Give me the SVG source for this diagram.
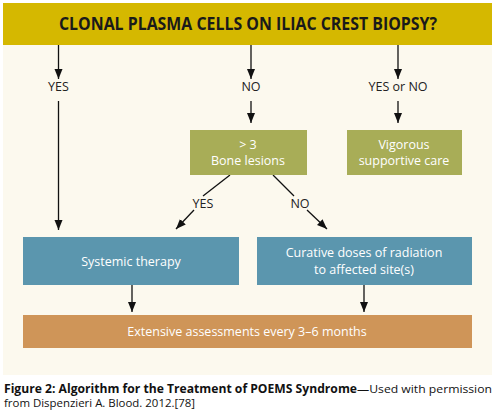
<svg xmlns="http://www.w3.org/2000/svg" width="498" height="415" viewBox="0 0 498 415">
<defs>
<marker id="ah" markerUnits="userSpaceOnUse" markerWidth="10" markerHeight="10" viewBox="0 0 10 10" refX="10" refY="5" orient="auto">
<path d="M0,1 L10,5 L0,9 z" fill="#111"/>
</marker>
<style>
.c{stroke:#111;stroke-width:1.3;fill:none;marker-end:url(#ah)}
.l{stroke:#111;stroke-width:1.3;fill:none}
.t{font-family:"Open Sans","Noto Sans",sans-serif;font-size:12.5px;fill:#222;text-anchor:middle}
.w{font-family:"Open Sans","Noto Sans",sans-serif;font-size:12.5px;fill:#fff;text-anchor:middle}
.cap{font-family:"Open Sans","Noto Sans",sans-serif;font-size:11.5px;fill:#111}
</style>
</defs>
<rect width="498" height="415" fill="#fff"/>
<rect x="3" y="3" width="489" height="372" fill="#FCF9EE"/>
<g id="header">
<rect x="3" y="3" width="489" height="42" fill="#D5B800"/>
<text x="248" y="30" font-family="Open Sans,Noto Sans,sans-serif" font-weight="bold" font-size="17" fill="#1a1a1a" text-anchor="middle" textLength="378" lengthAdjust="spacingAndGlyphs">CLONAL PLASMA CELLS ON ILIAC CREST BIOPSY?</text>
</g>
<g id="connectors">
<line class="c" x1="58.5" y1="45" x2="58.5" y2="79"/>
<line class="c" x1="251" y1="45" x2="251" y2="79"/>
<line class="c" x1="398" y1="45" x2="398" y2="79"/>
<line class="c" x1="58.5" y1="101" x2="58.5" y2="230"/>
<line class="c" x1="251" y1="101" x2="251" y2="123"/>
<line class="c" x1="398" y1="101" x2="398" y2="123"/>
<line class="l" x1="230" y1="175" x2="203" y2="196"/>
<line class="c" x1="194" y1="210" x2="176" y2="229"/>
<line class="l" x1="273" y1="175" x2="294" y2="196"/>
<line class="c" x1="307" y1="210" x2="327" y2="229"/>
<line class="c" x1="132" y1="285" x2="132" y2="312"/>
<line class="c" x1="364" y1="285" x2="364" y2="312"/>
<text class="t" x="58.5" y="91">YES</text>
<text class="t" x="251" y="91">NO</text>
<text class="t" x="398" y="91">YES or NO</text>
<text class="t" x="203" y="208">YES</text>
<text class="t" x="300" y="208">NO</text>
</g>
<g id="bone">
<rect x="190" y="130" width="117" height="45" fill="#A8AD57"/>
<text class="w" x="248" y="149">&gt; 3</text>
<text class="w" x="248" y="165">Bone lesions</text>
</g>
<g id="vigorous">
<rect x="347" y="130" width="115" height="45" fill="#A8AD57"/>
<text class="w" x="404" y="149">Vigorous</text>
<text class="w" x="404" y="165">supportive care</text>
</g>
<g id="systemic">
<rect x="23" y="237" width="216" height="48" fill="#5B96AE"/>
<text class="w" x="131" y="266">Systemic therapy</text>
</g>
<g id="curative">
<rect x="257" y="237" width="215" height="48" fill="#5B96AE"/>
<text class="w" x="364" y="257" font-size="12">Curative doses of radiation</text>
<text class="w" x="364" y="273.5" font-size="12">to affected site(s)</text>
</g>
<g id="assess">
<rect x="23" y="315" width="449" height="33" fill="#CF9558"/>
<text class="w" x="247" y="336">Extensive assessments every 3–6 months</text>
</g>
<g id="caption">
<text class="cap" x="4" y="393" font-weight="bold" textLength="353" lengthAdjust="spacingAndGlyphs">Figure 2: Algorithm for the Treatment of POEMS Syndrome</text>
<text class="cap" x="357" y="393" textLength="135" lengthAdjust="spacingAndGlyphs">—Used with permission</text>
<text class="cap" x="4" y="407" textLength="191" lengthAdjust="spacingAndGlyphs">from Dispenzieri A. Blood. 2012.[78]</text>
</g>
</svg>
